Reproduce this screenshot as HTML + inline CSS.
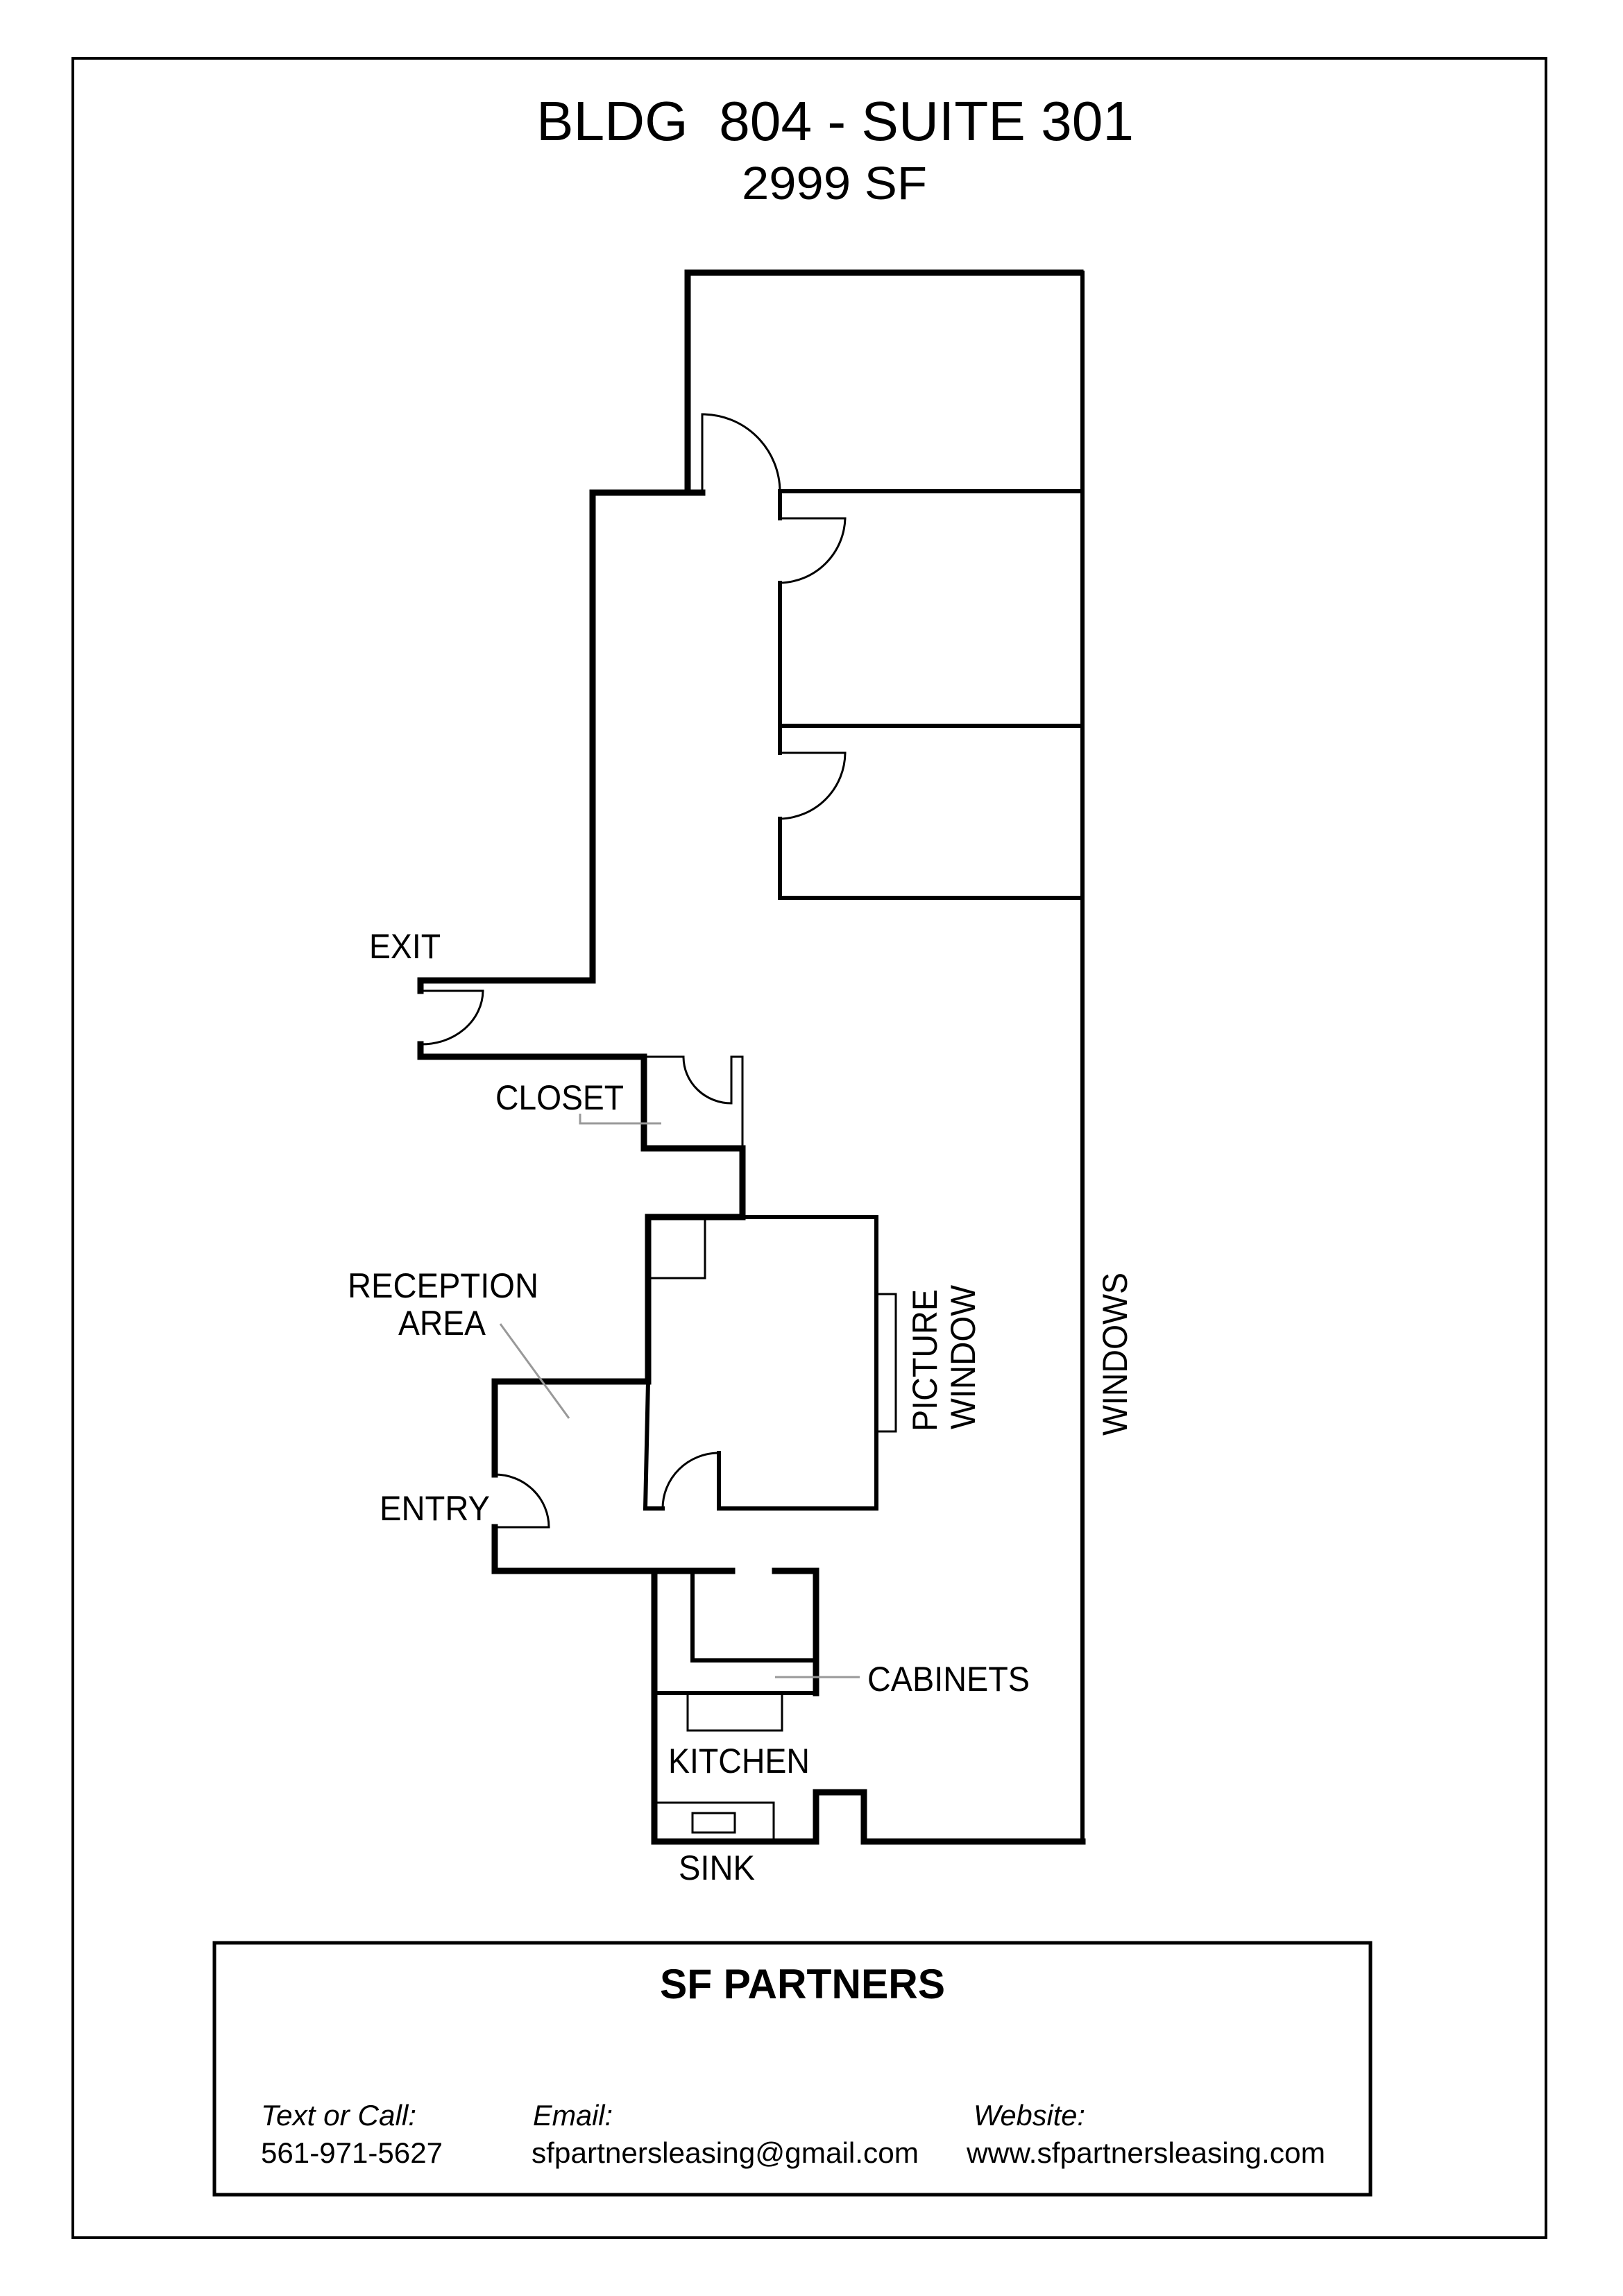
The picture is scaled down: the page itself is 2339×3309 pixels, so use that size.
<!DOCTYPE html>
<html><head><meta charset="utf-8"><style>html,body{margin:0;padding:0;background:#fff}svg{display:block}</style></head>
<body>
<svg width="2339" height="3309" viewBox="0 0 2339 3309" xmlns="http://www.w3.org/2000/svg" font-family="Liberation Sans, Arial, sans-serif">
<rect x="0" y="0" width="2339" height="3309" fill="#fff"/>
<!-- outer frame -->
<rect x="105" y="84" width="2123" height="3141" fill="none" stroke="#000" stroke-width="4"/>
<!-- title -->
<text x="773" y="202" font-size="80" textLength="861" lengthAdjust="spacingAndGlyphs">BLDG &#160;804 - SUITE 301</text>
<text x="1069" y="287" font-size="67" textLength="267" lengthAdjust="spacingAndGlyphs">2999 SF</text>

<g fill="none" stroke="#000" stroke-linecap="square" stroke-linejoin="miter">
<g stroke-width="9">
<polyline points="991,708 991,393 1557,393"/>
<polyline points="1012,710 854,710 854,1413 606,1413 606,1428"/>
<polyline points="606,1505 606,1523 928,1523 928,1655 1070,1655 1070,1754 934,1754 934,1991"/>
<polyline points="934,1991 713,1991 713,2125"/>
<polyline points="713,2201 713,2264 943,2264 943,2654 1176,2654 1176,2583 1245,2583 1245,2654 1560,2654"/>
<polyline points="943,2264 1055,2264"/>
<polyline points="1117,2264 1176,2264 1176,2440"/>
</g>
<g stroke-width="6">
<line x1="1560" y1="393" x2="1560" y2="2654"/>
<polyline points="1124,708 1124,747"/>
<line x1="1124" y1="840" x2="1124" y2="1085"/>
<line x1="1124" y1="1180" x2="1124" y2="1294"/>
<line x1="1124" y1="708" x2="1557" y2="708"/>
<line x1="1124" y1="1046" x2="1557" y2="1046"/>
<line x1="1124" y1="1294" x2="1557" y2="1294"/>
<polyline points="1070,1754 1263,1754 1263,2174 1036,2174 1036,2094"/>
<polyline points="934,1991 930,2174 955,2174"/>
<polyline points="998,2264 998,2393 1176,2393"/>
<line x1="942" y1="2440" x2="1176" y2="2440"/>
</g>
<g stroke-width="3">
<line x1="1012" y1="597" x2="1012" y2="710"/>
<path d="M1012,597 A112,112 0 0 1 1124,708"/>
<line x1="1124" y1="747" x2="1218" y2="747"/>
<path d="M1218,747 A96,96 0 0 1 1124,840"/>
<line x1="1124" y1="1085" x2="1218" y2="1085"/>
<path d="M1218,1085 A96,96 0 0 1 1124,1180"/>
<line x1="606" y1="1428" x2="696" y2="1428"/>
<path d="M696,1428 A88,78 0 0 1 606,1505"/>
<line x1="928" y1="1523" x2="985" y2="1523"/>
<path d="M985,1523 A69,67 0 0 0 1054,1590"/>
<polyline points="1054,1590 1054,1523 1070,1523 1070,1655"/>
<polyline points="934,1842 1016,1842 1016,1754"/>
<rect x="1263" y="1865" width="28" height="198"/>
<path d="M955,2174 A81,80 0 0 1 1036,2094"/>
<line x1="713" y1="2201" x2="791" y2="2201"/>
<path d="M713,2125 A78,76 0 0 1 791,2201"/>
<rect x="991" y="2440" width="136" height="54"/>
<polyline points="942,2598 1115,2598 1115,2654"/>
<rect x="998" y="2613" width="61" height="28"/>
</g>
<g stroke="#999" stroke-width="3" stroke-linecap="butt">
<polyline points="836,1605 836,1619 953,1619"/>
<line x1="721" y1="1908" x2="820" y2="2044"/>
<line x1="1117" y1="2417" x2="1239" y2="2417"/>
</g>
<rect x="309" y="2800" width="1666" height="363" stroke-width="5"/>
</g>

<g font-size="50" fill="#000">
<text x="532" y="1381" textLength="103" lengthAdjust="spacingAndGlyphs">EXIT</text>
<text x="714" y="1599" textLength="185" lengthAdjust="spacingAndGlyphs">CLOSET</text>
<text x="501" y="1870" textLength="275" lengthAdjust="spacingAndGlyphs">RECEPTION</text>
<text x="574" y="1924" textLength="126" lengthAdjust="spacingAndGlyphs">AREA</text>
<text x="547" y="2191" textLength="159" lengthAdjust="spacingAndGlyphs">ENTRY</text>
<text x="1250" y="2437" textLength="234" lengthAdjust="spacingAndGlyphs">CABINETS</text>
<text x="963" y="2555" textLength="204" lengthAdjust="spacingAndGlyphs">KITCHEN</text>
<text x="978" y="2709" textLength="110" lengthAdjust="spacingAndGlyphs">SINK</text>
<text transform="translate(1350,2063) rotate(-90)" textLength="205" lengthAdjust="spacingAndGlyphs">PICTURE</text>
<text transform="translate(1405,2060) rotate(-90)" textLength="208" lengthAdjust="spacingAndGlyphs">WINDOW</text>
<text transform="translate(1624,2069) rotate(-90)" textLength="235" lengthAdjust="spacingAndGlyphs">WINDOWS</text>
</g>
<text x="951" y="2880" font-size="60" font-weight="bold" textLength="411" lengthAdjust="spacingAndGlyphs">SF PARTNERS</text>
<g font-size="42" font-style="italic">
<text x="376" y="3063" textLength="224" lengthAdjust="spacingAndGlyphs">Text or Call:</text>
<text x="768" y="3063" textLength="115" lengthAdjust="spacingAndGlyphs">Email:</text>
<text x="1403" y="3063" textLength="161" lengthAdjust="spacingAndGlyphs">Website:</text>
</g>
<g font-size="42">
<text x="376" y="3117" textLength="262" lengthAdjust="spacingAndGlyphs">561-971-5627</text>
<text x="766" y="3117" textLength="558" lengthAdjust="spacingAndGlyphs">sfpartnersleasing@gmail.com</text>
<text x="1393" y="3117" textLength="517" lengthAdjust="spacingAndGlyphs">www.sfpartnersleasing.com</text>
</g>
</svg>
</body></html>
